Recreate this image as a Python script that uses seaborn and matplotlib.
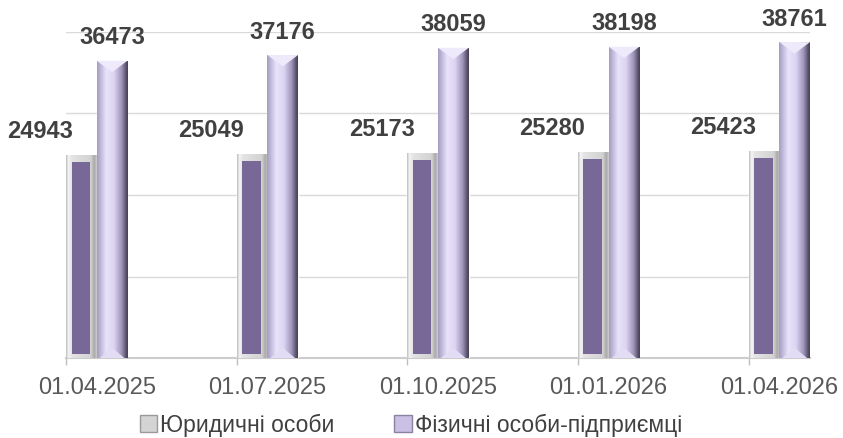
import numpy as np
import pandas as pd
import matplotlib
matplotlib.use("Agg")
from matplotlib import pyplot as plt
from matplotlib.colors import LinearSegmentedColormap
from matplotlib.patches import Patch, Polygon, Rectangle
import seaborn as sns

dates = ["01.04.2025", "01.07.2025", "01.10.2025", "01.01.2026", "01.04.2026"]
legal = [24943, 25049, 25173, 25280, 25423]
individual = [36473, 37176, 38059, 38198, 38761]
series_names = ["Юридичні особи", "Фізичні особи-підприємці"]

df = pd.DataFrame({
    "date": dates * 2,
    "series": [series_names[0]] * len(dates) + [series_names[1]] * len(dates),
    "value": legal + individual,
})

sns.set_theme(style="white")
plt.rcParams["font.family"] = ["Liberation Sans", "DejaVu Sans"]

fig = plt.figure(figsize=(8.43, 4.38), dpi=100)
ax = fig.add_axes([66 / 843, 80 / 438, 744 / 843, 326 / 438])

sns.barplot(data=df, x="date", y="value", hue="series",
            palette=["#D6D6D6", "#CFC6EA"], width=0.36, gap=0,
            saturation=1, legend=False, ax=ax, zorder=3)

# gradients to imitate the Excel bevel look
silver = LinearSegmentedColormap.from_list("silver", [
    (0.0, "#BDBDBD"), (0.08, "#F5F5F5"), (0.18, "#E4E4E4"),
    (0.8, "#D2D2D2"), (0.92, "#A9A9A9"), (1.0, "#D0D0D0")])
lilac = LinearSegmentedColormap.from_list("lilac", [
    (0.0, "#A59CC2"), (0.3, "#E9E3FB"), (0.55, "#DCD4F2"),
    (0.8, "#9D94B8"), (0.93, "#5E5773"), (1.0, "#45404F")])
grad = np.linspace(0, 1, 256).reshape(1, -1)

ymax = 40000
bev = 0.035 * ymax

for k, cont in enumerate(ax.containers):
    for patch, v in zip(cont.patches, df[df.series == series_names[k]].value):
        x0 = patch.get_x()
        w = patch.get_width()
        h = patch.get_height()
        im = ax.imshow(grad, cmap=silver if k == 0 else lilac,
                       extent=[x0, x0 + w, 0, h], aspect="auto",
                       origin="lower", zorder=3.1)
        im.set_clip_path(patch)
        if k == 0:
            ax.add_patch(Rectangle((x0 + 0.18 * w, 0.012 * ymax), 0.6 * w,
                                   h - 0.012 * ymax - 0.6 * bev,
                                   facecolor="#776897", edgecolor="none", zorder=3.2))
            dx = -41
        else:
            ax.add_patch(Polygon([(x0, h), (x0 + w, h), (x0 + w / 2, h - bev)],
                                 closed=True, facecolor="#EEEAFC",
                                 edgecolor="none", zorder=3.2))
            ax.add_patch(Polygon([(x0 + 0.1 * w, 0), (x0 + 0.9 * w, 0),
                                  (x0 + w / 2, bev * 0.9)],
                                 closed=True, facecolor="#E2DCF5",
                                 edgecolor="none", zorder=3.2))
            dx = 0
        ax.annotate(f"{v}", xy=(x0 + w / 2, h), xytext=(dx, 23),
                    textcoords="offset pixels", ha="center", va="center",
                    fontsize=17, fontweight="bold", color="#404040",
                    annotation_clip=False)

ax.set_xlim(-0.18, len(dates) - 1 + 0.18)
ax.set_ylim(0, ymax)
ax.set_yticks(np.arange(0, ymax + 1, 10000))
ax.set_yticklabels([])
ax.yaxis.grid(True, color="#D9D9D9", linewidth=1, zorder=0)
ax.tick_params(axis="y", length=0)
ax.set_xticks(range(len(dates)))
ax.set_xticklabels(dates, fontsize=17, color="#595959")
ax.tick_params(axis="x", which="major", length=0, pad=14)
ax.set_xticks(np.arange(len(dates)) - 0.18, minor=True)
ax.tick_params(axis="x", which="minor", length=5, color="#BFBFBF", bottom=True)
ax.set_xlabel("")
ax.set_ylabel("")
for s in ["left", "right", "top"]:
    ax.spines[s].set_visible(False)
ax.spines["bottom"].set_color("#CCCCCC")
ax.spines["bottom"].set_linewidth(1.5)

handles = [Patch(facecolor="#D4D4D4", edgecolor="#9A9A9A"),
           Patch(facecolor="#C9C0E4", edgecolor="#8A82A0")]
fig.legend(handles, series_names, loc="center", bbox_to_anchor=(411 / 843, 1 - 425 / 438),
           ncol=2, frameon=False, fontsize=16.5, handlelength=0.75, handleheight=0.75,
           handletextpad=0.15, columnspacing=2.6, labelcolor="#404040")

fig.savefig("out.png", dpi=100)
